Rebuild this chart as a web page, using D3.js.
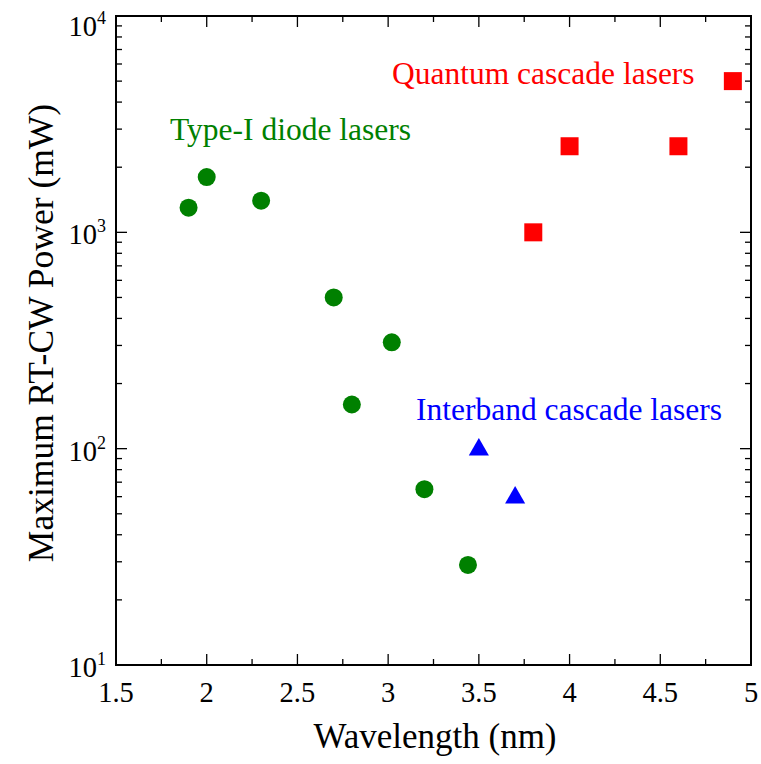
<!DOCTYPE html>
<html><head><meta charset="utf-8">
<script src="https://cdn.jsdelivr.net/npm/d3@7"></script>
<style>body{margin:0;background:#fff}svg{display:block}</style>
</head><body>
<script>
const typeIWl = [1.9, 2.0, 2.3, 2.7, 2.8, 3.02, 3.2, 3.44];
const typeIPow = [1300, 1800, 1400, 500, 160, 310, 65, 29];
const icWl = [3.5, 3.7];
const icPow = [100, 60];
const qcWl = [3.8, 4.0, 4.6, 4.9];
const qcPow = [1000, 2500, 2500, 5000];
const xTicks = [1.5, 2, 2.5, 3, 3.5, 4, 4.5, 5];
const yExps = [1, 2, 3, 4];

const W = 761, H = 764;
const m = {l:116, r:10, t:16, b:99};
const FF = "Liberation Serif";
const svg = d3.select("body").append("svg").attr("width", W).attr("height", H);
const x = d3.scaleLinear().domain([1.5, 5]).range([m.l, W - m.r]);
const y = d3.scaleLog().domain([10, 10000]).range([H - m.b, m.t]);

const g = svg.append("g");
g.append("rect").attr("x", x(1.5)).attr("y", y(10000)).attr("width", x(5)-x(1.5)).attr("height", y(10)-y(10000))
 .attr("fill","none").attr("stroke","#000").attr("stroke-width",2);

const xMinor = d3.range(1.75, 5, 0.5);
function xt(vals, len){
  vals.forEach(v=>{
    g.append("line").attr("x1",x(v)).attr("x2",x(v)).attr("y1",y(10)).attr("y2",y(10)-len).attr("stroke","#000").attr("stroke-width",1.3);
    g.append("line").attr("x1",x(v)).attr("x2",x(v)).attr("y1",y(10000)).attr("y2",y(10000)+len).attr("stroke","#000").attr("stroke-width",1.3);
  });
}
xt(xTicks.slice(1,-1), 11);
xt(xMinor, 6);
const yMinor = [];
[10,100,1000].forEach(d=>{for(let k=2;k<=9;k++) yMinor.push(d*k);});
function yt(vals, len){
  vals.forEach(v=>{
    g.append("line").attr("x1",x(1.5)).attr("x2",x(1.5)+len).attr("y1",y(v)).attr("y2",y(v)).attr("stroke","#000").attr("stroke-width",1.3);
    g.append("line").attr("x1",x(5)).attr("x2",x(5)-len).attr("y1",y(v)).attr("y2",y(v)).attr("stroke","#000").attr("stroke-width",1.3);
  });
}
yt([100,1000], 11);
yt(yMinor, 6);

xTicks.forEach(v=>{
  svg.append("text").attr("x",x(v)).attr("y",y(10)+37).attr("text-anchor","middle")
   .attr("font-family",FF).attr("font-size",28.5).text(String(v));
});
yExps.forEach(e=>{
  const yy = Math.max(y(Math.pow(10,e)) + 12, 36);
  const t = svg.append("text").attr("x",x(1.5)-10).attr("y",yy).attr("text-anchor","end")
   .attr("font-family",FF).attr("font-size",28.5);
  t.append("tspan").attr("font-family",FF).text("10");
  t.append("tspan").attr("font-family",FF).attr("dy",-12).attr("font-size",18).text(e);
});

svg.append("text").attr("x",435).attr("y",748).attr("text-anchor","middle")
 .attr("font-family",FF).attr("font-size",35).text("Wavelength (nm)");
svg.append("text").attr("transform",`translate(53,333) rotate(-90)`).attr("text-anchor","middle")
 .attr("font-family",FF).attr("font-size",35.5).text("Maximum RT-CW Power (mW)");

const green = "#008000";
typeIWl.forEach((w,i)=>{
  svg.append("circle").attr("cx",x(w)).attr("cy",y(typeIPow[i])).attr("r",9).attr("fill",green);
});
const tri = d3.symbol().type(d3.symbolTriangle).size(175);
icWl.forEach((w,i)=>{
  svg.append("path").attr("d",tri()).attr("transform",`translate(${x(w)},${y(icPow[i])+1})`).attr("fill","#0000ff");
});
qcWl.forEach((w,i)=>{
  svg.append("rect").attr("x",x(w)-9).attr("y",y(qcPow[i])-9).attr("width",18).attr("height",18).attr("fill","#ff0000");
});

svg.append("text").attr("x",392).attr("y",84).attr("font-family",FF).attr("font-size",31.5).attr("fill","#ff0000").text("Quantum cascade lasers");
svg.append("text").attr("x",170).attr("y",140).attr("font-family",FF).attr("font-size",31.5).attr("fill",green).text("Type-I diode lasers");
svg.append("text").attr("x",416).attr("y",420).attr("font-family",FF).attr("font-size",31.5).attr("fill","#0000ff").text("Interband cascade lasers");
</script>
</body></html>
